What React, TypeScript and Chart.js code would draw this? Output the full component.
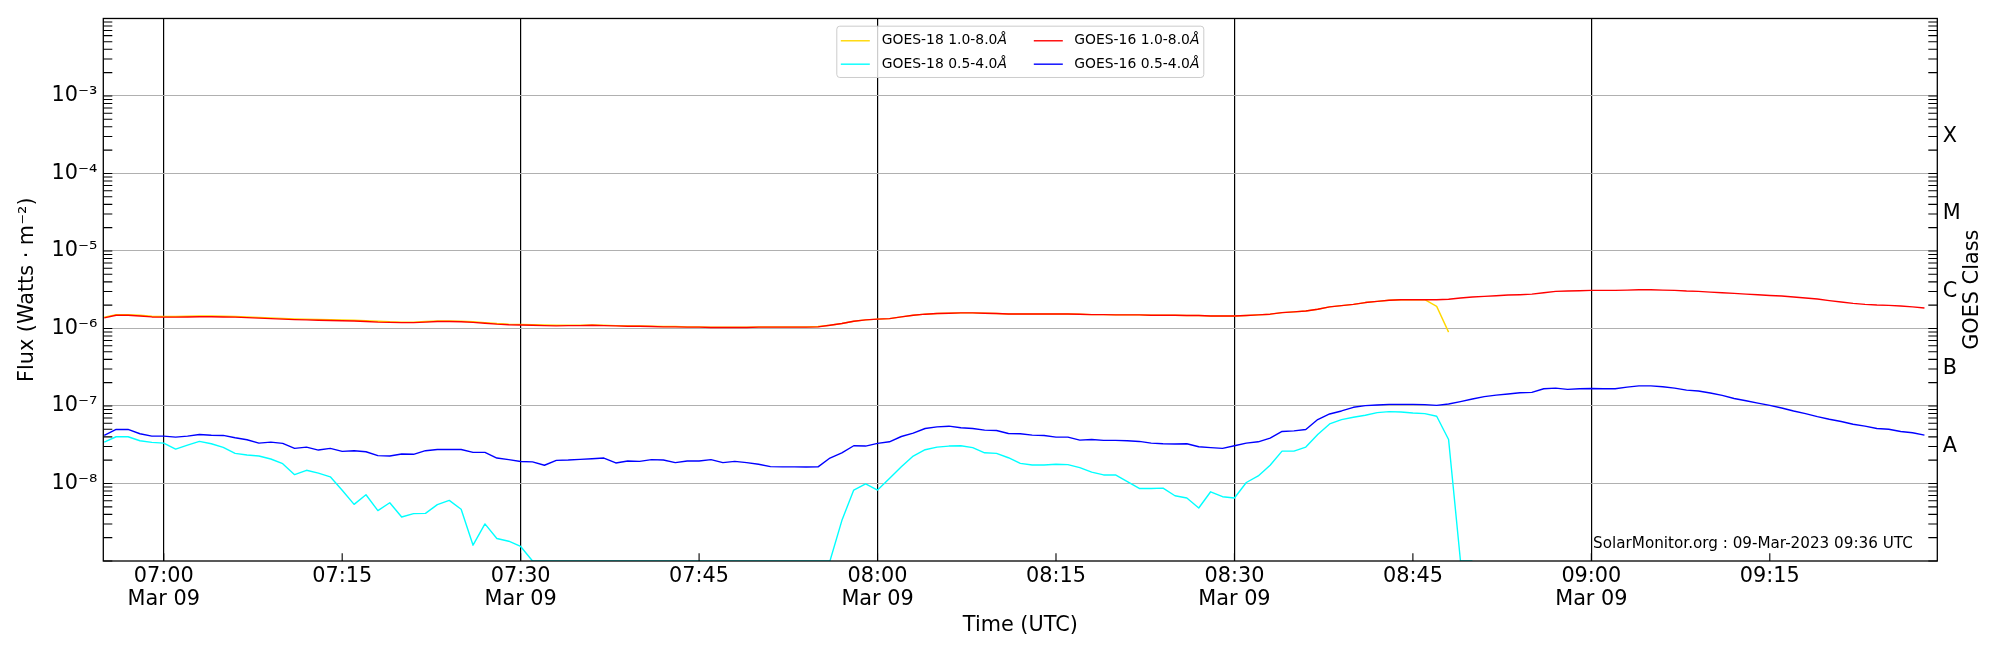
import { useEffect, useRef } from 'react';
import { Chart, registerables } from 'chart.js';

Chart.register(...registerables);

// one reading per minute, the first one at 06:55 UTC (minutes after midnight)
const START_MIN = 415;
const X_MIN = 414.92;
const X_MAX = 569.08;

// GOES-18 1.0-8.0 Å, W/m², 06:55 - 08:48
const G18_LONG = [
  1.40e-6, 1.51e-6, 1.51e-6, 1.48e-6, 1.44e-6, 1.43e-6, 1.43e-6, 1.44e-6, 1.45e-6, 1.45e-6,
  1.44e-6, 1.43e-6, 1.41e-6, 1.39e-6, 1.37e-6, 1.35e-6, 1.33e-6, 1.32e-6, 1.31e-6, 1.30e-6,
  1.29e-6, 1.28e-6, 1.26e-6, 1.24e-6, 1.22e-6, 1.21e-6, 1.21e-6, 1.23e-6, 1.25e-6, 1.25e-6,
  1.24e-6, 1.22e-6, 1.19e-6, 1.16e-6, 1.14e-6, 1.13e-6, 1.12e-6, 1.11e-6, 1.10e-6,
  1.10e-6, 1.10e-6, 1.11e-6, 1.10e-6, 1.09e-6, 1.08e-6, 1.08e-6, 1.07e-6, 1.06e-6, 1.06e-6,
  1.05e-6, 1.05e-6, 1.04e-6, 1.04e-6, 1.04e-6, 1.04e-6, 1.05e-6, 1.05e-6, 1.05e-6, 1.05e-6,
  1.05e-6, 1.06e-6, 1.10e-6, 1.16e-6, 1.24e-6, 1.29e-6, 1.32e-6, 1.34e-6, 1.41e-6, 1.48e-6,
  1.53e-6, 1.56e-6, 1.57e-6, 1.59e-6, 1.59e-6, 1.57e-6, 1.56e-6, 1.54e-6, 1.54e-6,
  1.54e-6, 1.54e-6, 1.54e-6, 1.54e-6, 1.53e-6, 1.51e-6, 1.51e-6, 1.50e-6, 1.50e-6, 1.50e-6,
  1.48e-6, 1.48e-6, 1.48e-6, 1.47e-6, 1.47e-6, 1.45e-6, 1.45e-6, 1.45e-6, 1.47e-6, 1.50e-6,
  1.53e-6, 1.60e-6, 1.64e-6, 1.68e-6, 1.77e-6, 1.90e-6, 1.97e-6, 2.05e-6, 2.16e-6, 2.24e-6,
  2.31e-6, 2.35e-6, 2.35e-6, 2.35e-6, 1.93e-6, 8.97e-7,
];

// GOES-18 0.5-4.0 Å, 06:55 - 08:50
const G18_SHORT = [
  3.42e-8, 4.01e-8, 4.01e-8, 3.56e-8, 3.39e-8, 3.32e-8, 2.78e-8, 3.13e-8, 3.49e-8, 3.26e-8,
  2.92e-8, 2.45e-8, 2.33e-8, 2.26e-8, 2.07e-8, 1.80e-8, 1.30e-8, 1.48e-8, 1.36e-8, 1.22e-8,
  8.20e-9, 5.38e-9, 7.16e-9, 4.47e-9, 5.65e-9, 3.70e-9, 4.08e-9, 4.12e-9, 5.33e-9, 6.05e-9,
  4.65e-9, 1.60e-9, 3.01e-9, 1.95e-9, 1.80e-9, 1.54e-9,
  1e-9, 1e-9, 1e-9, 1e-9, 1e-9, 1e-9, 1e-9, 1e-9, 1e-9, 1e-9, 1e-9, 1e-9, 1e-9,
  1e-9, 1e-9, 1e-9, 1e-9, 1e-9, 1e-9, 1e-9, 1e-9, 1e-9, 1e-9, 1e-9, 1e-9, 1e-9,
  3.32e-9, 8.22e-9, 9.91e-9, 8.22e-9, 1.16e-8, 1.64e-8, 2.26e-8, 2.73e-8, 2.95e-8, 3.04e-8,
  3.07e-8, 2.90e-8, 2.49e-8, 2.45e-8, 2.15e-8, 1.82e-8,
  1.73e-8, 1.73e-8, 1.77e-8, 1.75e-8, 1.60e-8, 1.40e-8, 1.29e-8, 1.29e-8, 1.06e-8, 8.63e-9,
  8.63e-9, 8.71e-9, 6.95e-9, 6.49e-9, 4.83e-9, 7.82e-9, 6.75e-9, 6.49e-9, 1.03e-8, 1.25e-8,
  1.72e-8, 2.62e-8, 2.62e-8, 2.95e-8, 4.29e-8, 5.87e-8, 6.68e-8, 7.16e-8, 7.59e-8, 8.22e-8,
  8.46e-8, 8.38e-8, 8.13e-8, 7.97e-8, 7.38e-8, 3.70e-8, 1e-9, 1e-9,
];

// GOES-16 1.0-8.0 Å, 06:55 - 09:28
const G16_LONG = [
  1.37e-6, 1.48e-6, 1.48e-6, 1.45e-6, 1.41e-6, 1.40e-6, 1.40e-6, 1.41e-6, 1.42e-6, 1.42e-6,
  1.41e-6, 1.40e-6, 1.38e-6, 1.36e-6, 1.34e-6, 1.32e-6, 1.30e-6, 1.29e-6, 1.28e-6, 1.27e-6,
  1.26e-6, 1.25e-6, 1.23e-6, 1.21e-6, 1.20e-6, 1.19e-6, 1.19e-6, 1.21e-6, 1.23e-6, 1.23e-6,
  1.22e-6, 1.20e-6, 1.17e-6, 1.14e-6, 1.12e-6, 1.11e-6, 1.10e-6, 1.09e-6, 1.08e-6,
  1.09e-6, 1.09e-6, 1.10e-6, 1.09e-6, 1.08e-6, 1.07e-6, 1.07e-6, 1.06e-6, 1.05e-6, 1.05e-6,
  1.04e-6, 1.04e-6, 1.03e-6, 1.03e-6, 1.03e-6, 1.03e-6, 1.04e-6, 1.04e-6, 1.04e-6, 1.04e-6,
  1.04e-6, 1.05e-6, 1.10e-6, 1.16e-6, 1.24e-6, 1.29e-6, 1.32e-6, 1.34e-6, 1.41e-6, 1.48e-6,
  1.53e-6, 1.56e-6, 1.57e-6, 1.59e-6, 1.59e-6, 1.57e-6, 1.56e-6, 1.54e-6, 1.54e-6,
  1.54e-6, 1.54e-6, 1.54e-6, 1.54e-6, 1.53e-6, 1.51e-6, 1.51e-6, 1.50e-6, 1.50e-6, 1.50e-6,
  1.48e-6, 1.48e-6, 1.48e-6, 1.47e-6, 1.47e-6, 1.45e-6, 1.45e-6, 1.45e-6, 1.47e-6, 1.50e-6,
  1.53e-6, 1.60e-6, 1.64e-6, 1.68e-6, 1.77e-6, 1.90e-6, 1.97e-6, 2.05e-6, 2.16e-6, 2.24e-6,
  2.31e-6, 2.35e-6, 2.35e-6, 2.35e-6, 2.35e-6, 2.38e-6, 2.47e-6, 2.55e-6,
  2.60e-6, 2.65e-6, 2.70e-6, 2.73e-6, 2.78e-6, 2.89e-6, 3.01e-6, 3.04e-6, 3.07e-6, 3.10e-6,
  3.10e-6, 3.10e-6, 3.13e-6, 3.16e-6, 3.16e-6, 3.13e-6, 3.10e-6, 3.04e-6, 3.01e-6, 2.95e-6,
  2.89e-6, 2.84e-6, 2.78e-6, 2.73e-6, 2.67e-6, 2.62e-6, 2.55e-6, 2.47e-6, 2.40e-6, 2.29e-6,
  2.20e-6, 2.11e-6, 2.05e-6, 2.01e-6, 1.99e-6, 1.95e-6, 1.90e-6, 1.84e-6,
];

// GOES-16 0.5-4.0 Å, 06:55 - 09:28
const G16_SHORT = [
  4.17e-8, 4.98e-8, 4.98e-8, 4.38e-8, 4.08e-8, 4.08e-8, 3.96e-8, 4.08e-8, 4.29e-8, 4.20e-8,
  4.17e-8, 3.89e-8, 3.67e-8, 3.32e-8, 3.42e-8, 3.29e-8, 2.84e-8, 2.95e-8, 2.70e-8, 2.84e-8,
  2.60e-8, 2.65e-8, 2.57e-8, 2.29e-8, 2.26e-8, 2.40e-8, 2.38e-8, 2.65e-8, 2.75e-8, 2.75e-8,
  2.75e-8, 2.52e-8, 2.52e-8, 2.13e-8, 2.03e-8, 1.92e-8, 1.90e-8, 1.72e-8, 1.99e-8,
  2.01e-8, 2.05e-8, 2.09e-8, 2.13e-8, 1.84e-8, 1.95e-8, 1.93e-8, 2.03e-8, 2.01e-8, 1.86e-8,
  1.95e-8, 1.95e-8, 2.03e-8, 1.86e-8, 1.93e-8, 1.86e-8, 1.77e-8, 1.65e-8, 1.64e-8, 1.64e-8,
  1.63e-8, 1.64e-8, 2.13e-8, 2.49e-8, 3.07e-8, 3.04e-8, 3.29e-8, 3.45e-8, 4.04e-8, 4.46e-8,
  5.12e-8, 5.38e-8, 5.49e-8, 5.23e-8, 5.12e-8, 4.88e-8, 4.83e-8, 4.42e-8, 4.38e-8,
  4.21e-8, 4.17e-8, 3.96e-8, 3.96e-8, 3.63e-8, 3.70e-8, 3.60e-8, 3.60e-8, 3.56e-8, 3.49e-8,
  3.32e-8, 3.26e-8, 3.23e-8, 3.26e-8, 2.98e-8, 2.90e-8, 2.84e-8, 3.07e-8, 3.32e-8, 3.45e-8,
  3.85e-8, 4.69e-8, 4.78e-8, 4.98e-8, 6.69e-8, 7.89e-8, 8.63e-8, 9.62e-8, 1.01e-7, 1.03e-7,
  1.05e-7, 1.05e-7, 1.05e-7, 1.04e-7, 1.02e-7, 1.06e-7, 1.14e-7, 1.23e-7,
  1.32e-7, 1.38e-7, 1.43e-7, 1.48e-7, 1.50e-7, 1.67e-7, 1.70e-7, 1.64e-7, 1.67e-7, 1.68e-7,
  1.67e-7, 1.67e-7, 1.75e-7, 1.82e-7, 1.82e-7, 1.77e-7, 1.70e-7, 1.60e-7, 1.56e-7, 1.47e-7,
  1.37e-7, 1.25e-7, 1.17e-7, 1.09e-7, 1.02e-7, 9.43e-8, 8.63e-8, 7.97e-8, 7.30e-8, 6.75e-8,
  6.30e-8, 5.82e-8, 5.49e-8, 5.12e-8, 5.02e-8, 4.69e-8, 4.51e-8, 4.21e-8,
];

const TIME_TICKS = [420, 435, 450, 465, 480, 495, 510, 525, 540, 555];
const FLUX_TICKS = [1e-8, 1e-7, 1e-6, 1e-5, 1e-4, 1e-3];
const CLASS_LABELS = ['A', 'B', 'C', 'M', 'X'];
const CLASS_FLUX = [3e-8, 3e-7, 3e-6, 3e-5, 3e-4];

const FONT = 'DejaVu Sans';
const BIG = 20.8;

const SUP: Record<string, string> = {
  '-': '⁻', '0': '⁰', '1': '¹', '2': '²', '3': '³', '4': '⁴', '5': '⁵', '6': '⁶', '7': '⁷', '8': '⁸', '9': '⁹',
};
const pow10 = (v: number) =>
  '10' + String(Math.round(Math.log10(v))).split('').map((c) => SUP[c]).join('');
const hhmm = (m: number) =>
  `${String(Math.floor(m / 60)).padStart(2, '0')}:${String(m % 60).padStart(2, '0')}`;
const toPoints = (vals: number[]) => vals.map((y, i) => ({ x: START_MIN + i, y }));

// inward tick marks + the box round the plot
const frame = {
  id: 'frame',
  afterDraw(chart: any) {
    const { ctx, chartArea: a, scales } = chart;
    ctx.save();
    ctx.strokeStyle = '#000';
    ctx.lineWidth = 1.1;
    ctx.beginPath();
    for (let d = -9; d < -2; d++) {
      for (let m = 1; m <= 9; m++) {
        const py = scales.y.getPixelForValue(m * Math.pow(10, d));
        if (py < a.top - 0.5 || py > a.bottom + 0.5) continue;
        ctx.moveTo(a.left, py);
        ctx.lineTo(a.left + 9, py);
        ctx.moveTo(a.right, py);
        ctx.lineTo(a.right - 9, py);
      }
    }
    for (const t of TIME_TICKS) {
      const px = scales.x.getPixelForValue(t);
      ctx.moveTo(px, a.bottom);
      ctx.lineTo(px, a.bottom - 7.7);
    }
    ctx.stroke();
    ctx.lineWidth = 1.3;
    ctx.strokeRect(a.left, a.top, a.right - a.left, a.bottom - a.top);
    ctx.restore();
  },
};

// two-column legend inside the plot, top centre
const legendBox = {
  id: 'legendBox',
  afterDraw(chart: any) {
    const { ctx, chartArea: a } = chart;
    const w = 367;
    const h = 51.3;
    const x0 = (a.left + a.right) / 2 - w / 2;
    const y0 = a.top + 7.7;
    ctx.save();
    ctx.beginPath();
    ctx.roundRect(x0, y0, w, h, 3);
    ctx.fillStyle = 'rgba(255,255,255,0.8)';
    ctx.fill();
    ctx.strokeStyle = '#cccccc';
    ctx.lineWidth = 1;
    ctx.stroke();
    ctx.textBaseline = 'middle';
    ctx.textAlign = 'left';
    chart.data.datasets.forEach((ds: any, i: number) => {
      const col = Math.floor(i / 2);
      const row = i % 2;
      const hx = x0 + 4 + col * 193;
      const ty = y0 + 14.6 + row * 23.4;
      ctx.strokeStyle = ds.borderColor;
      ctx.lineWidth = 1.4;
      ctx.beginPath();
      ctx.moveTo(hx, ty);
      ctx.lineTo(hx + 29, ty);
      ctx.stroke();
      const main = ds.label.replace(/Å$/, '');
      const tx = x0 + 45 + col * 192.5;
      ctx.fillStyle = '#000';
      ctx.font = `13.9px "${FONT}"`;
      ctx.fillText(main, tx, ty);
      const mw = ctx.measureText(main).width;
      ctx.font = `italic 13.9px "${FONT}"`;
      ctx.fillText('Å', tx + mw, ty);
    });
    ctx.restore();
  },
};

// right axis title and the source stamp
const notes = {
  id: 'notes',
  afterDraw(chart: any) {
    const { ctx, chartArea: a } = chart;
    ctx.save();
    ctx.fillStyle = '#000';
    ctx.font = `15.2px "${FONT}"`;
    ctx.textAlign = 'right';
    ctx.textBaseline = 'alphabetic';
    ctx.fillText('SolarMonitor.org : 09-Mar-2023 09:36 UTC', a.right - 24.5, a.bottom - 13);
    ctx.translate(a.right + 35.5, (a.top + a.bottom) / 2);
    ctx.rotate(-Math.PI / 2);
    ctx.textAlign = 'center';
    ctx.textBaseline = 'middle';
    ctx.font = `${BIG}px "${FONT}"`;
    ctx.fillText('GOES Class', 0, 0);
    ctx.restore();
  },
};

export default function App() {
  const canvasRef = useRef<HTMLCanvasElement>(null);

  useEffect(() => {
    document.body.style.margin = '0';
    if (!canvasRef.current) return;

    const line = { borderWidth: 1.4, pointRadius: 0, tension: 0, fill: false, borderJoinStyle: 'round' as const };
    const tickFont = { family: FONT, size: BIG };

    const chart = new Chart(canvasRef.current, {
      type: 'line',
      data: {
        datasets: [
          { ...line, label: 'GOES-18 1.0-8.0Å', data: toPoints(G18_LONG), borderColor: '#ffd700', order: 4 },
          { ...line, label: 'GOES-18 0.5-4.0Å', data: toPoints(G18_SHORT), borderColor: '#00ffff', order: 3 },
          { ...line, label: 'GOES-16 1.0-8.0Å', data: toPoints(G16_LONG), borderColor: '#ff0000', order: 2 },
          { ...line, label: 'GOES-16 0.5-4.0Å', data: toPoints(G16_SHORT), borderColor: '#0000ff', order: 1 },
        ],
      },
      options: {
        animation: false,
        responsive: true,
        maintainAspectRatio: false,
        layout: { padding: { top: 15, left: 0, right: 0, bottom: 0 } },
        plugins: { legend: { display: false }, tooltip: { enabled: false } },
        scales: {
          x: {
            type: 'linear',
            min: X_MIN,
            max: X_MAX,
            afterBuildTicks: (s: any) => {
              s.ticks = TIME_TICKS.map((value) => ({ value }));
            },
            afterFit: (s: any) => {
              s.height = 89;
            },
            ticks: {
              autoSkip: false,
              maxRotation: 0,
              padding: 3.5,
              color: '#000',
              font: { ...tickFont, lineHeight: 1.14 },
              callback: (v: any) => (v % 30 === 0 ? [hhmm(v), 'Mar 09'] : hhmm(v)),
            },
            grid: {
              drawTicks: false,
              lineWidth: 1.2,
              color: (c: any) => (c.tick && c.tick.value % 30 === 0 ? '#000' : 'rgba(0,0,0,0)'),
            },
            border: { display: false },
            title: {
              display: true,
              text: 'Time (UTC)',
              color: '#000',
              font: tickFont,
              padding: { top: 0, bottom: 11.5 },
            },
          },
          y: {
            type: 'logarithmic',
            position: 'left',
            min: 1e-9,
            max: 1e-2,
            afterBuildTicks: (s: any) => {
              s.ticks = FLUX_TICKS.map((value) => ({ value }));
            },
            afterFit: (s: any) => {
              s.width = 103.3;
            },
            ticks: {
              autoSkip: false,
              padding: 6,
              color: '#000',
              font: tickFont,
              callback: (v: any) => pow10(Number(v)),
            },
            grid: { drawTicks: false, color: '#b0b0b0', lineWidth: 1.1 },
            border: { display: false },
            title: {
              display: true,
              text: 'Flux (Watts · m⁻²)',
              color: '#000',
              font: tickFont,
              padding: { top: 15.3, bottom: 0 },
            },
          },
          y2: {
            type: 'logarithmic',
            position: 'right',
            min: 1e-9,
            max: 1e-2,
            afterBuildTicks: (s: any) => {
              s.ticks = CLASS_FLUX.map((value) => ({ value }));
            },
            afterFit: (s: any) => {
              s.width = 62.7;
            },
            ticks: {
              autoSkip: false,
              padding: 5.4,
              color: '#000',
              font: tickFont,
              callback: (_v: any, i: number) => CLASS_LABELS[i],
            },
            grid: { display: false, drawTicks: false },
            border: { display: false },
          },
        },
      },
      plugins: [frame, legendBox, notes],
    });

    return () => chart.destroy();
  }, []);

  return (
    <div style={{ width: 2000, height: 650, position: 'relative', background: '#fff' }}>
      <canvas ref={canvasRef} />
    </div>
  );
}
